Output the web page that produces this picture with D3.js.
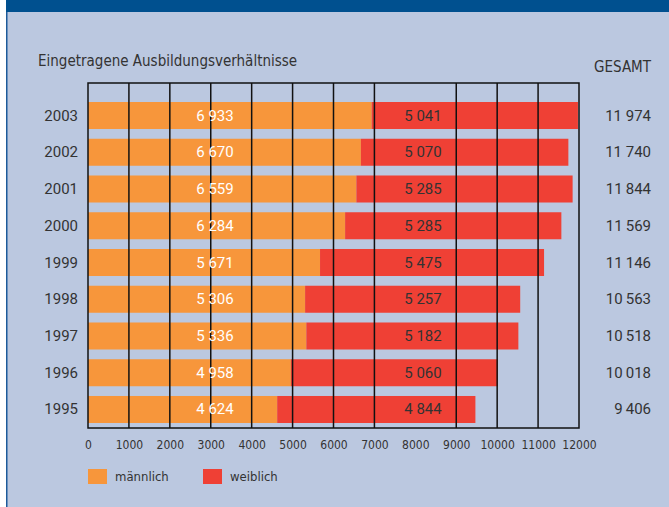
<!DOCTYPE html>
<html>
<head>
<meta charset="utf-8">
<script src="https://cdn.jsdelivr.net/npm/d3@7"></script>
<style>
  body { margin: 0; background: #fff; }
  svg text { fill: #333; }
</style>
</head>
<body>
<svg id="chart" width="669" height="507"></svg>
<script>
var years = ["2003", "2002", "2001", "2000", "1999", "1998", "1997", "1996", "1995"];
var maennlich = [6933, 6670, 6559, 6284, 5671, 5306, 5336, 4958, 4624];
var weiblich = [5041, 5070, 5285, 5285, 5475, 5257, 5182, 5060, 4844];
var gesamt = ["11 974", "11 740", "11\u2009844", "11\u2009569", "11\u2009146", "10\u2009563", "10\u2009518", "10\u2009018", "9\u2009406"];
var gridValues = [1000, 2000, 3000, 4000, 5000, 6000, 7000, 9000, 10000, 11000];
var tickValues = [0, 1000, 2000, 3000, 4000, 5000, 6000, 7000, 8000, 9000, 10000, 11000, 12000];

var narrow = "'DejaVu Sans Condensed', 'Liberation Sans Narrow', sans-serif";
var orange = "#f7963b", red = "#ef4035";

var svg = d3.select('#chart');

// panel
svg.append('rect').attr('x', 6).attr('y', 0).attr('width', 663).attr('height', 507).attr('fill', '#bbc8e0');
svg.append('rect').attr('x', 6).attr('y', 0).attr('width', 1.5).attr('height', 507).attr('fill', '#1d5a9a');
svg.append('rect').attr('x', 6).attr('y', 0).attr('width', 663).attr('height', 12).attr('fill', '#00508f');

var x = d3.scaleLinear().domain([0, 12000]).range([88, 579]);
var y = d3.scaleBand().domain(years).range([102, 423]).paddingInner(0.265).paddingOuter(0);

var rows = years.map(function(yr, i) {
  return { year: yr, m: maennlich[i], w: weiblich[i], total: gesamt[i] };
});

svg.append('text').attr('x', 38).attr('y', 66)
  .style('font-family', narrow).style('font-size', '15px')
  .text('Eingetragene Ausbildungsverhältnisse');
svg.append('text').attr('x', 651).attr('y', 72).attr('text-anchor', 'end')
  .style('font-family', narrow).style('font-size', '15px')
  .text('GESAMT');

// bars
svg.selectAll('.m').data(rows).enter().append('rect')
  .attr('x', x(0)).attr('y', function(d) { return y(d.year); })
  .attr('width', function(d) { return x(d.m) - x(0); })
  .attr('height', y.bandwidth()).attr('fill', orange);
svg.selectAll('.w').data(rows).enter().append('rect')
  .attr('x', function(d) { return x(d.m); }).attr('y', function(d) { return y(d.year); })
  .attr('width', function(d) { return x(d.m + d.w) - x(d.m); })
  .attr('height', y.bandwidth()).attr('fill', red);

// grid + frame
svg.selectAll('.grid').data(gridValues).enter().append('line')
  .attr('x1', function(d) { return x(d); }).attr('x2', function(d) { return x(d); })
  .attr('y1', 83).attr('y2', 428)
  .attr('stroke', '#111').attr('stroke-width', 1.5);
svg.append('rect').attr('x', x(0)).attr('y', 83)
  .attr('width', x(12000) - x(0)).attr('height', 428 - 83)
  .attr('fill', 'none').attr('stroke', '#111').attr('stroke-width', 1.5);

var fmt = function(v) { return d3.format(',')(v).replace(',', ' '); };
var mid = function(d) { return y(d.year) + y.bandwidth() / 2 + 5; };

svg.selectAll('.ml').data(rows).enter().append('text')
  .attr('x', 215).attr('y', mid).attr('text-anchor', 'middle')
  .style('fill', '#fff').style('font-family', 'Roboto').style('font-size', '15px')
  .text(function(d) { return fmt(d.m); });
svg.selectAll('.wl').data(rows).enter().append('text')
  .attr('x', 423).attr('y', mid).attr('text-anchor', 'middle')
  .style('font-family', 'Roboto').style('font-size', '15px')
  .text(function(d) { return fmt(d.w); });
svg.selectAll('.yl').data(rows).enter().append('text')
  .attr('x', 78).attr('y', mid).attr('text-anchor', 'end')
  .style('font-family', 'Roboto').style('font-size', '15px')
  .text(function(d) { return d.year; });
svg.selectAll('.tl').data(rows).enter().append('text')
  .attr('x', 651).attr('y', mid).attr('text-anchor', 'end')
  .style('font-family', 'Roboto').style('font-size', '15px')
  .text(function(d) { return d.total; });

// x axis
var axis = svg.append('g').attr('transform', 'translate(0,428)')
  .call(d3.axisBottom(x).tickValues(tickValues).tickFormat(d3.format('d')).tickSize(0).tickPadding(12));
axis.select('.domain').remove();
axis.selectAll('text').style('font-family', narrow).style('font-size', '12px').style('fill', '#333');

// legend
var legend = [{ label: 'männlich', color: orange, x: 88 }, { label: 'weiblich', color: red, x: 203 }];
var lg = svg.selectAll('.lg').data(legend).enter().append('g');
lg.append('rect').attr('x', function(d) { return d.x; }).attr('y', 469)
  .attr('width', 19).attr('height', 15).attr('fill', function(d) { return d.color; });
lg.append('text').attr('x', function(d) { return d.x + 27; }).attr('y', 481)
  .style('font-family', narrow).style('font-size', '13px')
  .text(function(d) { return d.label; });
</script>
</body>
</html>
